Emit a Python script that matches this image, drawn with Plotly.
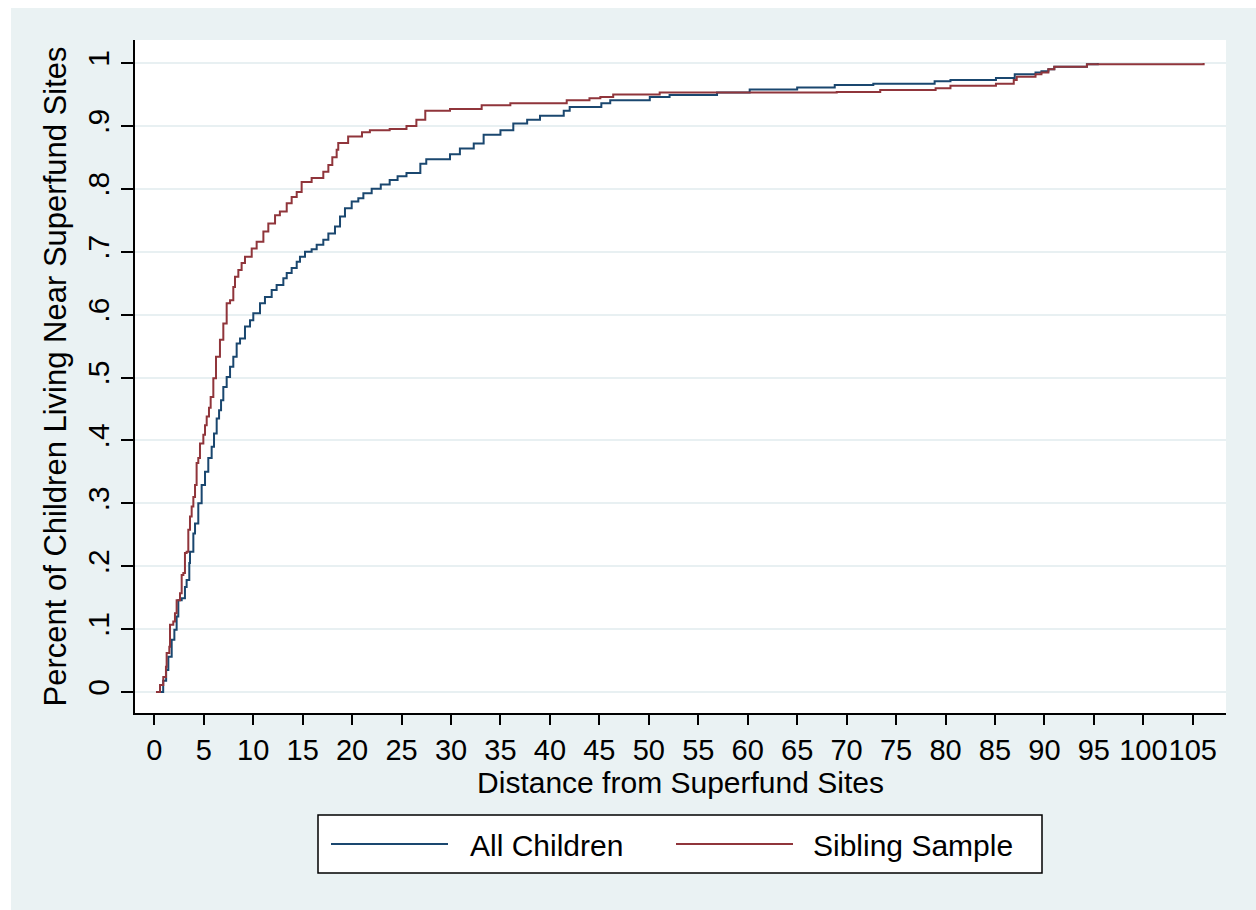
import plotly.graph_objects as go

# ---- Data ----
series_names = ["All Children", "Sibling Sample"]

all_children_x = [0.3, 0.9, 1.2, 1.42, 1.76, 2.03, 2.26, 2.43, 2.77, 3.10, 3.27, 3.54, 3.61, 3.95, 4.12,
                  4.45, 4.79, 5.13, 5.46, 5.80, 6.04, 6.31, 6.55, 6.75, 6.98, 7.32, 7.66, 7.99, 8.33, 8.67,
                  9.17, 9.68, 10.01, 10.69, 11.19, 11.87, 12.37, 13.05, 13.39, 13.89, 14.40, 14.73, 15.24,
                  15.91, 16.42, 17.09, 17.60, 18.27, 18.78, 19.28, 19.96, 20.63, 21.14, 21.98, 22.9, 23.8,
                  24.6, 25.5, 26.9, 27.5, 29.9, 30.9, 32.3, 33.3, 35.0, 36.3, 37.7, 39.0, 41.4, 42.0, 45.2,
                  46.1, 50.1, 52.1, 56.9, 60.2, 65.0, 68.8, 72.7, 78.9, 80.5, 85.1, 87.0, 89.1, 89.7, 90.4,
                  91.0, 94.3, 95.4]
all_children_y = [0.0, 0.018, 0.035, 0.056, 0.083, 0.099, 0.12, 0.146, 0.149, 0.167, 0.178, 0.205, 0.223,
                  0.252, 0.268, 0.30, 0.329, 0.35, 0.372, 0.39, 0.411, 0.435, 0.448, 0.464, 0.485, 0.501,
                  0.517, 0.533, 0.554, 0.562, 0.581, 0.591, 0.602, 0.618, 0.628, 0.639, 0.647, 0.658, 0.666,
                  0.674, 0.684, 0.692, 0.70, 0.704, 0.711, 0.719, 0.729, 0.74, 0.756, 0.769, 0.78, 0.785,
                  0.793, 0.80, 0.807, 0.814, 0.82, 0.825, 0.84, 0.847, 0.855, 0.864, 0.872, 0.886, 0.893,
                  0.904, 0.91, 0.916, 0.924, 0.93, 0.936, 0.941, 0.946, 0.949, 0.953, 0.958, 0.961, 0.965,
                  0.967, 0.971, 0.973, 0.976, 0.982, 0.985, 0.987, 0.99, 0.994, 0.998, 1.0]

sibling_x = [0.17, 0.58, 0.91, 1.18, 1.25, 1.52, 1.59, 1.92, 2.09, 2.26, 2.60, 2.77, 2.94, 3.10, 3.27, 3.44,
             3.61, 3.78, 3.95, 4.12, 4.28, 4.45, 4.62, 4.96, 5.13, 5.30, 5.53, 5.70, 5.97, 6.24, 6.64, 6.98,
             7.32, 7.66, 7.99, 8.16, 8.50, 8.83, 9.17, 9.85, 10.35, 11.03, 11.53, 12.21, 12.70, 13.39, 13.89,
             14.40, 14.90, 15.91, 17.09, 17.60, 18.0, 18.44, 18.6, 19.6, 21.0, 21.8, 23.8, 25.5, 26.5, 27.4,
             29.9, 33.1, 36.0, 41.7, 44.0, 45.1, 46.4, 51.1, 69.0, 73.4, 79.0, 80.5, 85.1, 86.9, 87.2, 89.1,
             89.7, 90.4, 91.0, 94.3, 106.1]
sibling_y = [0.0, 0.011, 0.024, 0.040, 0.062, 0.072, 0.107, 0.112, 0.125, 0.146, 0.157, 0.186, 0.189, 0.221,
             0.223, 0.258, 0.279, 0.295, 0.31, 0.329, 0.364, 0.372, 0.395, 0.409, 0.424, 0.438, 0.452, 0.469,
             0.499, 0.533, 0.56, 0.586, 0.618, 0.623, 0.644, 0.66, 0.671, 0.682, 0.692, 0.705, 0.716, 0.732,
             0.745, 0.758, 0.764, 0.777, 0.787, 0.795, 0.811, 0.817, 0.827, 0.838, 0.85, 0.862, 0.873, 0.883,
             0.89, 0.893, 0.895, 0.90, 0.91, 0.924, 0.927, 0.933, 0.936, 0.941, 0.944, 0.946, 0.95, 0.953,
             0.954, 0.957, 0.96, 0.964, 0.967, 0.973, 0.978, 0.982, 0.985, 0.99, 0.994, 0.998, 1.0]

x_tick_vals = list(range(0, 110, 5))
x_tick_text = [str(v) for v in x_tick_vals]
y_tick_vals = [i / 10 for i in range(11)]
y_tick_text = ["0", ".1", ".2", ".3", ".4", ".5", ".6", ".7", ".8", ".9", "1"]

x_title = "Distance from Superfund Sites"
y_title = "Percent of Children Living Near Superfund Sites"

# ---- Styles ----
BLUE = "#1A476F"
RED = "#90353B"
BG = "#EAF2F3"
GRID = "#E8F0F2"
FONT = "Liberation Sans, Arial, sans-serif"
FS = 30
FS_XT = 29
FS_YT = 31

W, H = 1256, 910
L, R, T, B = 135, 1226, 40, 713  # plot area in pixels


def px_x(p):
    return (p - L) / (R - L)


def px_y(p):
    return (B - p) / (B - T)


fig = go.Figure()
fig.add_trace(go.Scatter(x=all_children_x, y=all_children_y, mode="lines", line_shape="hv",
                         line=dict(color=BLUE, width=2), name=series_names[0]))
fig.add_trace(go.Scatter(x=sibling_x, y=sibling_y, mode="lines", line_shape="hv",
                         line=dict(color=RED, width=2), name=series_names[1]))

shapes = [
    # white strips at top and left outside the graph region
    dict(type="rect", xref="paper", yref="paper", x0=px_x(0), x1=px_x(11), y0=px_y(H), y1=px_y(0),
         fillcolor="white", line=dict(width=0), layer="below"),
    dict(type="rect", xref="paper", yref="paper", x0=px_x(0), x1=px_x(W), y0=px_y(8), y1=px_y(0),
         fillcolor="white", line=dict(width=0), layer="below"),
    # legend box
    dict(type="rect", xref="paper", yref="paper", x0=px_x(318), x1=px_x(1042), y0=px_y(873), y1=px_y(815),
         fillcolor="white", line=dict(color="black", width=1.5)),
    dict(type="line", xref="paper", yref="paper", x0=px_x(331), x1=px_x(448), y0=px_y(844), y1=px_y(844),
         line=dict(color=BLUE, width=2)),
    dict(type="line", xref="paper", yref="paper", x0=px_x(676), x1=px_x(793), y0=px_y(844), y1=px_y(844),
         line=dict(color=RED, width=2)),
]

annotations = [
    dict(xref="paper", yref="paper", x=px_x(468), y=px_y(845), text=series_names[0], showarrow=False,
         xanchor="left", yanchor="middle", font=dict(family=FONT, size=FS, color="black")),
    dict(xref="paper", yref="paper", x=px_x(811), y=px_y(845), text=series_names[1], showarrow=False,
         xanchor="left", yanchor="middle", font=dict(family=FONT, size=FS, color="black")),
]

fig.update_layout(
    width=W, height=H,
    margin=dict(l=L, r=W - R, t=T, b=H - B, pad=0),
    paper_bgcolor=BG, plot_bgcolor="white",
    showlegend=False,
    font=dict(family=FONT, size=FS, color="black"),
    shapes=shapes, annotations=annotations,
    xaxis=dict(range=[-1.95, 108.36], tickmode="array", tickvals=x_tick_vals, ticktext=x_tick_text,
               tickangle=0,
               showgrid=False, zeroline=False, showline=True, linecolor="black", linewidth=1.5,
               ticks="outside", ticklen=10, tickwidth=1.5, tickcolor="black",
               tickfont=dict(family=FONT, size=FS_XT, color="black"),
               title=dict(text=x_title, standoff=0, font=dict(family=FONT, size=FS, color="black"))),
    yaxis=dict(range=[-0.0334, 1.0366], tickmode="array", tickvals=y_tick_vals, ticktext=y_tick_text,
               tickangle=-90, showgrid=True, gridcolor=GRID, gridwidth=1.5, zeroline=False,
               showline=True, linecolor="black", linewidth=1.5,
               ticks="outside", ticklen=12, tickwidth=1.5, tickcolor="black",
               tickfont=dict(family=FONT, size=FS, color="black"),
               title=dict(text=y_title, standoff=6, font=dict(family=FONT, size=FS_YT, color="black"))),
)

fig.write_html("out.html")
